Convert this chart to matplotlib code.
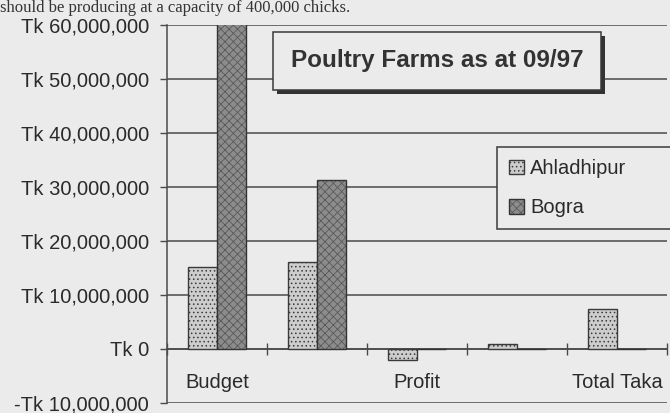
import numpy as np
import matplotlib
matplotlib.use("Agg")
import matplotlib.pyplot as plt
from matplotlib.ticker import FuncFormatter, FixedLocator
import matplotlib.patheffects as pe

# --------------------------------------------------
# DATA
# --------------------------------------------------
categories = ["Budget", "", "Profit", "", "Total Taka"]   # 2nd/4th labels are skipped in the original
ahladhipur = [15.2e6, 16.2e6, -2.0e6, 1.0e6, 7.4e6]
bogra      = [62.0e6, 31.3e6, 0.0, 0.0, 0.0]              # first bar runs off the top of the chart
y_ticks    = [-10e6, 0, 10e6, 20e6, 30e6, 40e6, 50e6, 60e6]
title      = "Poultry Farms as at 09/97"
page_text  = "should be producing at a capacity of 400,000 chicks."

# --------------------------------------------------
# STYLE
# --------------------------------------------------
PAPER   = "#ebebeb"
GRID    = "#4a4a4a"
C_AHL   = "#cdcdcd"
C_BOG   = "#8c8c8c"
FONT    = "Liberation Sans"

plt.rcParams["font.family"] = FONT
plt.rcParams["hatch.linewidth"] = 0.6
plt.rcParams["hatch.color"] = "#7a7a7a"

fig = plt.figure(figsize=(6.7, 4.13), dpi=100, facecolor=PAPER)
ax = fig.add_axes([167 / 670, 1 - 403 / 413, 500 / 670, 378 / 413])
ax.set_facecolor(PAPER)

x = np.arange(len(categories))
w = 0.29

b1 = ax.bar(x - w / 2, ahladhipur, w, color=C_AHL, edgecolor="#3a3a3a",
            linewidth=1.0, hatch="....", label="Ahladhipur", zorder=3)
b2 = ax.bar(x + w / 2, bogra, w, color=C_BOG, edgecolor="#333333",
            linewidth=1.0, hatch="xxxx", label="Bogra", zorder=3)
for p in b2:
    p._hatch_color = (0.35, 0.35, 0.35, 1.0)

ax.set_xlim(-0.5, len(categories) - 0.5)
ax.set_ylim(y_ticks[0], y_ticks[-1])

# y axis
ax.yaxis.set_major_locator(FixedLocator(y_ticks))
ax.yaxis.set_major_formatter(FuncFormatter(
    lambda v, _: f"-Tk {abs(v):,.0f}" if v < 0 else f"Tk {v:,.0f}"))
ax.tick_params(axis="y", direction="out", length=5, width=1, color=GRID,
               labelsize=14.5, labelcolor="#2a2a2a", pad=8)
ax.yaxis.grid(True, color=GRID, linewidth=1.1, zorder=0)
ax.set_axisbelow(True)

# x axis sits on zero, ticks between categories
ax.spines["bottom"].set_position(("data", 0))
ax.spines["bottom"].set_color(GRID)
ax.spines["bottom"].set_linewidth(1.1)
ax.spines["left"].set_color(GRID)
ax.spines["left"].set_linewidth(1.1)
ax.spines["top"].set_visible(False)
ax.spines["right"].set_visible(False)

ax.set_xticks(x)
ax.set_xticklabels(categories)
ax.set_xticks(np.arange(len(categories) + 1) - 0.5, minor=True)
ax.tick_params(axis="x", which="major", length=0, labelsize=14.5,
               labelcolor="#2a2a2a", pad=17)
ax.tick_params(axis="x", which="minor", direction="inout", length=8,
               width=1, color=GRID)

# legend (runs off the right edge like the scan)
leg = ax.legend(loc="upper left", bbox_to_anchor=(497 / 670, 1 - 147 / 413, 185 / 670, 0),
                bbox_transform=fig.transFigure, mode="expand",
                fontsize=14.5, frameon=True,
                fancybox=False, framealpha=1, facecolor=PAPER, edgecolor="#3a3a3a",
                handlelength=0.75, handleheight=0.75, handletextpad=0.3,
                borderpad=0.6, labelspacing=1.0, borderaxespad=0)
leg.get_frame().set_linewidth(1.1)
leg.set_zorder(5)
for t in leg.get_texts():
    t.set_color("#2a2a2a")

# title box with drop shadow
t = fig.text(437 / 670, 1 - 61 / 413, title, ha="center", va="center",
             fontsize=17.5, fontweight="bold", color="#333333", zorder=6,
             bbox=dict(boxstyle="square,pad=0.72", facecolor=PAPER,
                       edgecolor="#3a3a3a", linewidth=1.1))
t.get_bbox_patch().set_path_effects([
    pe.withSimplePatchShadow(offset=(3, -3), shadow_rgbFace="#333333", alpha=1.0)])

# line of the scanned page above the chart
fig.text(0.0, 1 - 12 / 413, page_text, ha="left", va="baseline",
         fontsize=12, family="Liberation Serif", color="#333333")

fig.savefig("out.png", dpi=100, facecolor=PAPER)
